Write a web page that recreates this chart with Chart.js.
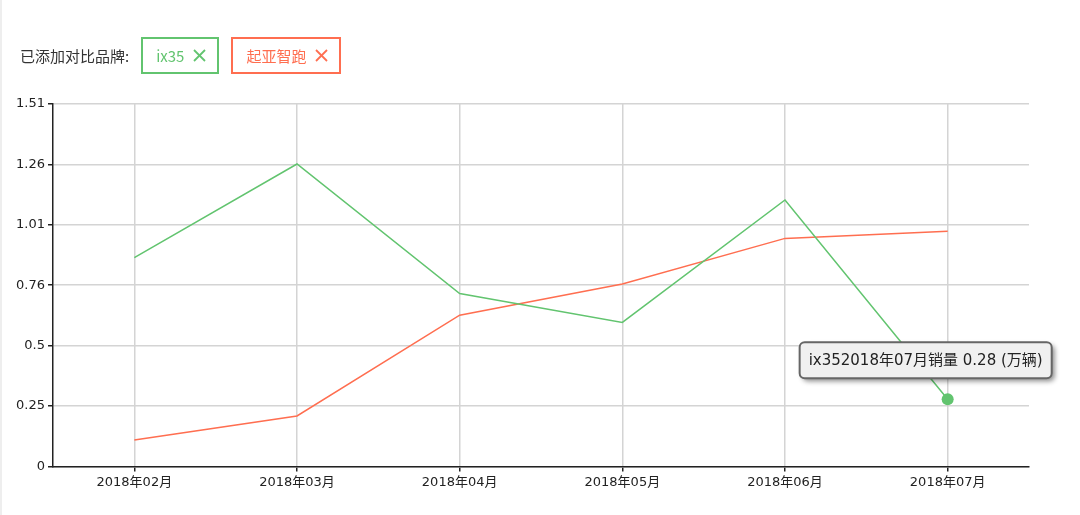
<!DOCTYPE html>
<html>
<head>
<meta charset="utf-8">
<script src="https://cdn.jsdelivr.net/npm/chart.js@4.4.1/dist/chart.umd.min.js"></script>
<style>
  html, body { margin: 0; padding: 0; background: #fff; }
  body { width: 1080px; height: 515px; position: relative; overflow: hidden; border-left: 2px solid #eeeeee; box-sizing: border-box; }
  #brands { position: absolute; left: 18px; top: 37px; height: 37px; display: flex; align-items: center; font-family: "Noto Sans CJK SC", sans-serif; font-size: 15px; color: #333; }
  .tag { box-sizing: border-box; border: 2px solid; display: flex; align-items: center; padding: 0 11px 0 13px; margin-left: 12px; height: 37px; }
  .tag svg { margin-left: 9px; }
  #wrap { position: absolute; left: 0; top: 0; width: 1080px; height: 515px; }
</style>
</head>
<body>
<div id="wrap"><canvas id="chart" width="1080" height="515"></canvas></div>
<div id="brands">
  <span>已添加对比品牌:</span>
  <div class="tag" id="tag0"></div>
  <div class="tag" id="tag1"></div>
</div>
<script>
const months = ['2018年02月', '2018年03月', '2018年04月', '2018年05月', '2018年06月', '2018年07月'];
const seriesNames = ['ix35', '起亚智跑'];
const ix35 = [0.87, 1.26, 0.72, 0.60, 1.11, 0.28];
const kx5 = [0.11, 0.21, 0.63, 0.76, 0.95, 0.98];
const yMax = 1.51;
const yTickLabels = ['0', '0.25', '0.5', '0.76', '1.01', '1.26', '1.51'];
const colors = ['#62c46f', '#ff6e50'];
const hoverIndex = 5; // the point the tooltip is showing

// legend tags
seriesNames.forEach((name, i) => {
    const el = document.getElementById('tag' + i);
    el.style.borderColor = colors[i];
    el.style.color = colors[i];
    el.innerHTML = `<span>${name}</span><svg width="13" height="13"><line x1="1" y1="1" x2="12" y2="12" stroke="${colors[i]}" stroke-width="1.8"/><line x1="12" y1="1" x2="1" y2="12" stroke="${colors[i]}" stroke-width="1.8"/></svg>`;
});

// fixed tooltip with drop shadow
const tipPlugin = {
    id: 'tip',
    afterDraw(chart) {
        const pt = chart.getDatasetMeta(0).data[hoverIndex];
        const ctx = chart.ctx;
        const text = `${seriesNames[0]}${months[hoverIndex]}销量 ${ix35[hoverIndex]} (万辆)`;
        ctx.save();
        ctx.font = '15px "DejaVu Sans", "Noto Sans CJK SC", sans-serif';
        const w = ctx.measureText(text).width + 18;
        const h = 36;
        const x = pt.x - 22 - w / 2;
        const y = pt.y - 21 - h;
        ctx.shadowColor = 'rgba(0,0,0,0.45)';
        ctx.shadowBlur = 5;
        ctx.shadowOffsetX = 3;
        ctx.shadowOffsetY = 3;
        ctx.fillStyle = '#f0f0f0';
        ctx.beginPath();
        ctx.roundRect(x, y, w, h, 5);
        ctx.fill();
        ctx.shadowColor = 'transparent';
        ctx.lineWidth = 2;
        ctx.strokeStyle = '#666';
        ctx.stroke();
        ctx.fillStyle = '#222';
        ctx.textBaseline = 'middle';
        ctx.fillText(text, x + 9, y + h / 2 + 1);
        ctx.restore();
    }
};

const tickFont = { family: '"DejaVu Sans", "Noto Sans CJK SC", sans-serif', size: 13 };

new Chart(document.getElementById('chart'), {
    type: 'line',
    data: {
        labels: months,
        datasets: [
            {
                label: seriesNames[0],
                data: ix35,
                borderColor: colors[0],
                backgroundColor: colors[0],
                borderWidth: 1.5,
                tension: 0,
                pointRadius: (c) => c.dataIndex === hoverIndex ? 6 : 0,
                pointBorderWidth: 0
            },
            {
                label: seriesNames[1],
                data: kx5,
                borderColor: colors[1],
                backgroundColor: colors[1],
                borderWidth: 1.5,
                tension: 0,
                pointRadius: 0
            }
        ]
    },
    options: {
        responsive: false,
        animation: false,
        events: [],
        layout: { padding: { top: 104, right: 53, bottom: 22, left: 0 } },
        plugins: {
            legend: { display: false },
            tooltip: { enabled: false }
        },
        scales: {
            x: {
                offset: true,
                grid: { color: '#d4d4d4', lineWidth: 1.5, tickLength: 5, tickColor: '#222', offset: false },
                border: { color: '#222', width: 1.5 },
                ticks: { color: '#222', font: tickFont, padding: 3, maxRotation: 0 }
            },
            y: {
                min: 0,
                max: yMax,
                afterBuildTicks: (scale) => {
                    scale.ticks = yTickLabels.map((_, i) => ({ value: yMax * i / (yTickLabels.length - 1) }));
                },
                afterFit: (scale) => { scale.width = 51; },
                grid: { color: '#d4d4d4', lineWidth: 1.5, tickLength: 5, tickColor: '#222' },
                border: { color: '#222', width: 1.5 },
                ticks: {
                    color: '#222',
                    font: tickFont,
                    padding: 3,
                    callback: (v, i) => yTickLabels[i]
                }
            }
        }
    },
    plugins: [tipPlugin]
});
</script>
</body>
</html>
